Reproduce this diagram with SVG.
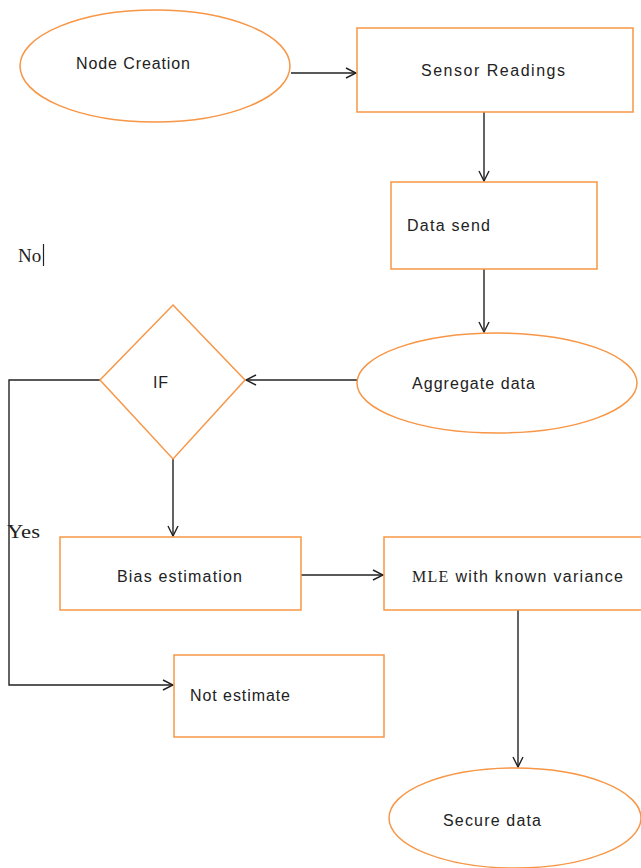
<svg xmlns="http://www.w3.org/2000/svg" width="641" height="868" viewBox="0 0 641 868">
<defs>
<marker id="arr" viewBox="0 0 12 12" refX="11" refY="6" markerWidth="12" markerHeight="12" markerUnits="userSpaceOnUse" orient="auto">
<path d="M1,1 L11,6 L1,11" fill="none" stroke="#222" stroke-width="1.4"/>
</marker>
<style>
.n{fill:#fff;stroke:#F79646;stroke-width:1.5}
.t{font-family:"Liberation Sans",Arial,sans-serif;font-size:16px;fill:#222}
.s{font-family:"Liberation Serif","Times New Roman",serif;font-size:19px;fill:#222}
.c{fill:none;stroke:#222;stroke-width:1.4}
</style>
</defs>
<rect width="641" height="868" fill="#fff"/>
<g id="connectors">
<path class="c" d="M291,73 L356,73" marker-end="url(#arr)"/>
<path class="c" d="M484,112 L484,181" marker-end="url(#arr)"/>
<path class="c" d="M484,269 L484,332" marker-end="url(#arr)"/>
<path class="c" d="M357,380 L246,380" marker-end="url(#arr)"/>
<path class="c" d="M173,459 L173,536" marker-end="url(#arr)"/>
<path class="c" d="M301,575 L383,575" marker-end="url(#arr)"/>
<path class="c" d="M518,610 L518,767" marker-end="url(#arr)"/>
<path class="c" d="M100,380 L9,380 L9,685 L173,685" marker-end="url(#arr)"/>
</g>
<g id="node-creation">
<ellipse class="n" cx="155" cy="66" rx="135" ry="56"/>
<text class="t" x="76" y="69" textLength="114" lengthAdjust="spacing">Node Creation</text>
</g>
<g id="sensor-readings">
<rect class="n" x="357" y="28" width="276" height="84"/>
<text class="t" x="421" y="76" textLength="144" lengthAdjust="spacing">Sensor Readings</text>
</g>
<g id="data-send">
<rect class="n" x="391" y="182" width="206" height="87"/>
<text class="t" x="407" y="231" textLength="83" lengthAdjust="spacing">Data send</text>
</g>
<g id="aggregate-data">
<ellipse class="n" cx="497" cy="383" rx="140" ry="50"/>
<text class="t" x="412" y="389" textLength="123" lengthAdjust="spacing">Aggregate data</text>
</g>
<g id="if">
<polygon class="n" points="173,305 245,380 173,459 100,380"/>
<text class="t" x="153" y="388" textLength="15" lengthAdjust="spacing">IF</text>
</g>
<g id="bias-estimation">
<rect class="n" x="60" y="537" width="241" height="73"/>
<text class="t" x="117" y="582" textLength="125" lengthAdjust="spacing">Bias estimation</text>
</g>
<g id="mle">
<rect class="n" x="384" y="537" width="262" height="73"/>
<text class="t" x="412" y="582" textLength="211" lengthAdjust="spacing"><tspan font-family="Liberation Serif, serif">MLE</tspan> with known variance</text>
</g>
<g id="not-estimate">
<rect class="n" x="174" y="655" width="210" height="82"/>
<text class="t" x="190" y="701" textLength="100" lengthAdjust="spacing">Not estimate</text>
</g>
<g id="secure-data">
<ellipse class="n" cx="515" cy="818" rx="126" ry="50"/>
<text class="t" x="443" y="826" textLength="98" lengthAdjust="spacing">Secure data</text>
</g>
<g id="labels">
<text class="s" x="18" y="262">No</text>
<line x1="43.5" y1="244" x2="43.5" y2="266" stroke="#222" stroke-width="1.2"/>
<text class="s" x="7" y="538" textLength="33" lengthAdjust="spacingAndGlyphs">Yes</text>
</g>
</svg>
